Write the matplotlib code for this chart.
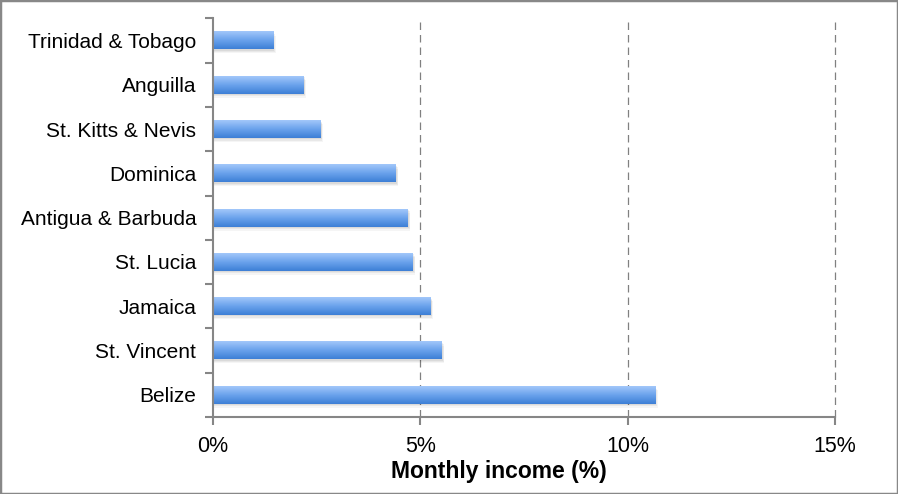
import matplotlib
matplotlib.use("Agg")
import matplotlib.pyplot as plt
import numpy as np
from matplotlib.colors import LinearSegmentedColormap
from matplotlib.patches import Rectangle

plt.rcParams['font.family'] = ['Liberation Sans', 'DejaVu Sans']

countries = ["Belize", "St. Vincent", "Jamaica", "St. Lucia", "Antigua & Barbuda",
             "Dominica", "St. Kitts & Nevis", "Anguilla", "Trinidad & Tobago"]
values = [10.67, 5.52, 5.25, 4.82, 4.70, 4.41, 2.60, 2.19, 1.45]
xticks = [0, 5, 10, 15]
xticklabels = ["0%", "5%", "10%", "15%"]

fig = plt.figure(figsize=(8.98, 4.94), dpi=100)
ax = fig.add_axes([213/898, 1-417/494, (835-213)/898, (417-17.5)/494])

cmap = LinearSegmentedColormap.from_list("g", ["#3d7fd6", "#6aa2ec", "#a2c7fa"])
grad = np.linspace(0, 1, 64).reshape(-1, 1)
h = 0.40
for i, v in enumerate(values):
    # soft shadow
    for k, a in enumerate([0.06, 0.05, 0.04]):
        off = 0.03 + 0.03 * k
        ax.add_patch(Rectangle((0.0, i - h/2 - off), v + 0.02 + 0.02 * k, h, facecolor="#000000",
                               alpha=a, edgecolor="none", zorder=2))
    ax.imshow(grad, extent=[0, v, i - h/2, i + h/2], origin="lower", cmap=cmap,
              aspect="auto", zorder=3, interpolation="bilinear")

ax.set_xlim(0, 15)
ax.set_ylim(-0.48, len(countries) - 0.48)

ax.set_xticks(xticks)
ax.set_xticklabels(xticklabels, fontsize=15.5)
ax.set_yticks(range(len(countries)))
ax.set_yticklabels(countries, fontsize=15)
ax.set_yticks(np.arange(-0.5, len(countries), 1.0), minor=True)
ax.tick_params(axis="y", which="major", length=0, pad=12)
ax.tick_params(axis="y", which="minor", length=6, width=1.5, color="#868686", direction="out")
ax.tick_params(axis="x", which="major", length=6, width=1.5, color="#868686", direction="out", pad=8)

for x in xticks[1:]:
    ax.axvline(x, color="#808080", linestyle=(0, (6, 4)), linewidth=0.9, zorder=1, clip_on=False)

for s in ["top", "right"]:
    ax.spines[s].set_visible(False)
for s in ["left", "bottom"]:
    ax.spines[s].set_color("#868686")
    ax.spines[s].set_linewidth(1.5)
    ax.spines[s].set_zorder(5)

ax.set_xlabel("Monthly income (%)", fontsize=16.5, fontweight="bold", labelpad=3)
ax.xaxis.set_label_coords((499 - 213) / 622, -(471.5 - 417) / (417 - 17.5))
ax.xaxis.label.set_va("center")

fig.patches.append(Rectangle((0, 0), 1, 1, transform=fig.transFigure, fill=False,
                             edgecolor="#888888", linewidth=2.5))

fig.savefig("out.png", dpi=100)
